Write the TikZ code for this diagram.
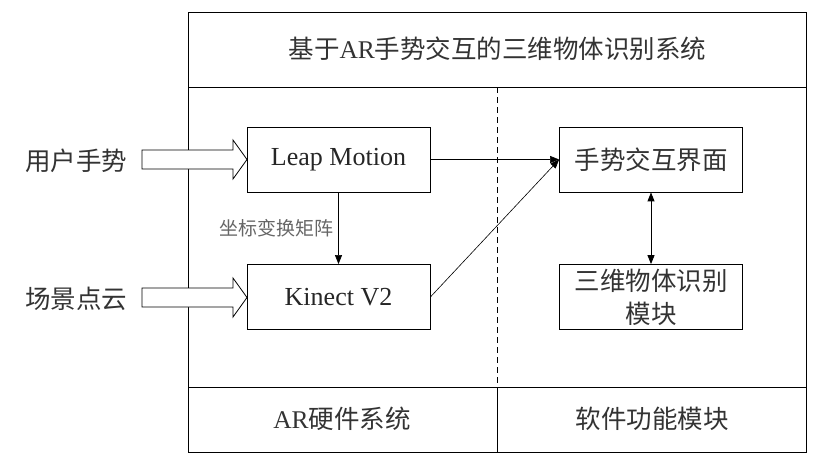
\documentclass[tikz,border=0pt]{standalone}
\usepackage{fontspec}
\setmainfont{Liberation Serif}
\newfontfamily\cjk{Noto Sans CJK SC}
\usetikzlibrary{arrows.meta}

\begin{document}
\begin{tikzpicture}[x=1pt,y=-1pt,
    box/.style={draw,line width=0.8pt,minimum width=183pt,minimum height=65pt,inner sep=0pt,text=black!85},
    big/.style={font=\cjk\fontsize{25.5}{33}\selectfont,text=black!80},
    conn/.style={line width=0.6pt,-{Triangle[length=9pt,width=7pt]}},
    dconn/.style={line width=0.9pt,{Triangle[length=9pt,width=7pt]}-{Triangle[length=9pt,width=7pt]}},
    fat/.style={draw,line width=0.8pt,fill=white}]
        \useasboundingbox (0,0) rectangle (813,461);

        % draw outer frame
        \draw[line width=0.9pt] (188.5,12.5) rectangle (806.5,452);
        \draw[line width=0.9pt] (188.5,87) -- (806.5,87);
        \draw[line width=0.9pt] (188.5,387.5) -- (806.5,387.5);
        \draw[line width=0.9pt] (497.5,387.5) -- (497.5,452);
        \draw[line width=0.7pt,dash pattern=on 6pt off 4pt] (497.5,87) -- (497.5,387.5);

        % draw titles
        \node[big] (title) at (497.5,49) {基于{\rmfamily AR}手势交互的三维物体识别系统};
        \node[big] (hw) at (342,419) {{\rmfamily AR}硬件系统};
        \node[big] (sw) at (652,419) {软件功能模块};

        % draw inputs
        \node[big] (user) at (76,161) {用户手势};
        \node[big] (scene) at (76,299) {场景点云};

        % draw fat arrows
        \foreach \y in {159.5,297.5}
          \draw[fat] (142,\y-9.5) -- (233,\y-9.5) -- (233,\y-19.5) -- (247,\y)
                -- (233,\y+19.5) -- (233,\y+9.5) -- (142,\y+9.5) -- cycle;

        % draw boxes
        \node[box,font=\fontsize{26}{30}\selectfont] (leap) at (338.5,159.5) {Leap Motion};
        \node[box,font=\fontsize{26}{30}\selectfont] (kinect) at (338.5,297) {Kinect V2};
        \node[box,big,align=center] (ui) at (651,159.5) {手势交互界面};
        \node[box,big,align=center] (rec) at (651,297) {三维物体识别\\模块};

        % draw connectors
        \draw[conn] (leap) -- (ui);
        \draw[conn] (kinect.east) -- (ui.west);
        \draw[conn] (leap) -- node[left=1pt,font=\cjk\fontsize{19}{22}\selectfont,text=black!60] {坐标变换矩阵} (kinect);
        \draw[dconn] (ui) -- (rec);
\end{tikzpicture}
\end{document}
